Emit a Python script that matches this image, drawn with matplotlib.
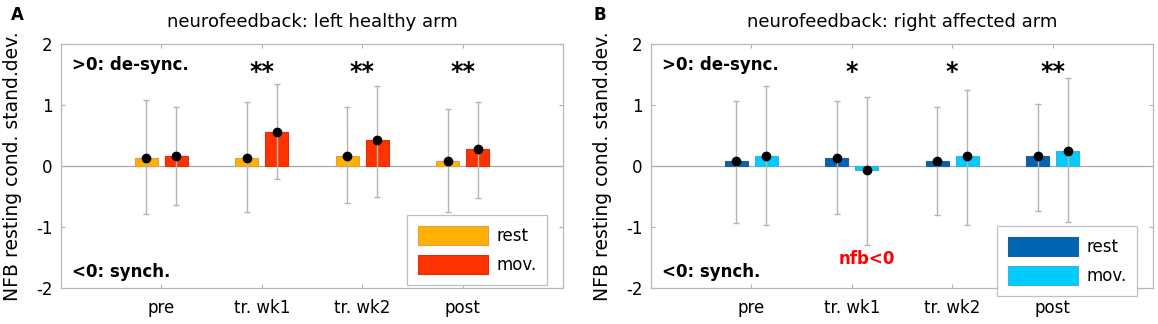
import numpy as np
import matplotlib
matplotlib.use('Agg')
import matplotlib.pyplot as plt

# session labels
categories = ['pre', 'tr. wk1', 'tr. wk2', 'post']

# panel A: left healthy arm
a_rest = [0.13, 0.13, 0.16, 0.08]
a_rest_hi = [1.08, 1.05, 0.96, 0.93]
a_rest_lo = [-0.78, -0.75, -0.61, -0.75]
a_mov = [0.16, 0.56, 0.42, 0.28]
a_mov_hi = [0.96, 1.34, 1.31, 1.05]
a_mov_lo = [-0.64, -0.21, -0.50, -0.52]
a_stars = ['', '**', '**', '**']

# panel B: right affected arm
b_rest = [0.08, 0.14, 0.08, 0.16]
b_rest_hi = [1.07, 1.07, 0.96, 1.02]
b_rest_lo = [-0.93, -0.79, -0.81, -0.73]
b_mov = [0.16, -0.07, 0.16, 0.25]
b_mov_hi = [1.31, 1.14, 1.25, 1.45]
b_mov_lo = [-0.96, -1.30, -0.96, -0.92]
b_stars = ['', '*', '*', '**']

plt.rcParams['font.family'] = ['DejaVu Sans']

fig = plt.figure(figsize=(11.58, 3.24), dpi=100)
axA = fig.add_axes([0.0527, 0.111, 0.4335, 0.753])
axB = fig.add_axes([0.5622, 0.111, 0.4335, 0.753])

grey = '#b4b4b4'
x = np.arange(1, len(categories) + 1)
off = 0.15
w = 0.23


def panel(ax, rest, rest_lo, rest_hi, mov, mov_lo, mov_hi, stars, cols, edges, title, legend_y):
    ax.axhline(0, color='#a8a8a8', lw=0.9, zorder=1)
    for dx, vals, lo, hi, c, ec, lab in [(-off, rest, rest_lo, rest_hi, cols[0], edges[0], 'rest'),
                                          (off, mov, mov_lo, mov_hi, cols[1], edges[1], 'mov.')]:
        vals = np.array(vals)
        ax.bar(x + dx, vals, width=w, color=c, edgecolor=ec, lw=0.8, zorder=2, label=lab)
        ax.errorbar(x + dx, vals, yerr=[vals - np.array(lo), np.array(hi) - vals],
                    fmt='none', ecolor=grey, elinewidth=1, capsize=2.5, capthick=1, zorder=3)
        ax.plot(x + dx, vals, 'o', color='k', ms=6, zorder=4)
    for xi, s in zip(x, stars):
        if s:
            ax.text(xi, 1.55, s, ha='center', va='center', fontsize=17, fontweight='bold')
    ax.text(0.11, 1.66, '>0: de-sync.', ha='left', va='center', fontsize=12, fontweight='bold')
    ax.text(0.11, -1.73, '<0: synch.', ha='left', va='center', fontsize=12, fontweight='bold')
    ax.set_xlim(0, 5)
    ax.set_ylim(-2, 2)
    ax.set_xticks(x)
    ax.set_xticklabels(categories)
    ax.set_yticks([-2, -1, 0, 1, 2])
    ax.set_yticklabels(['-2', '-1', '0', '1', '2'])
    ax.tick_params(direction='in', length=3, top=True, right=True, color='#b0b0b0',
                   labelsize=12, pad=6)
    ax.tick_params(axis='x', pad=8)
    for sp in ax.spines.values():
        sp.set_color('#b8b8b8')
        sp.set_linewidth(0.9)
    ax.set_title(title, fontsize=13, pad=12)
    ax.set_ylabel('NFB resting cond. stand.dev.', fontsize=13.5)
    ax.yaxis.set_label_coords(-0.078, 0.5)
    leg = ax.legend(loc='lower left', bbox_to_anchor=(0.689, legend_y), borderaxespad=0,
                    fontsize=12, handlelength=4.2, handleheight=1.4, labelspacing=0.6,
                    handletextpad=0.5, borderpad=0.65, fancybox=False, framealpha=1,
                    edgecolor='#c0c0c0')
    leg.get_frame().set_linewidth(0.9)


panel(axA, a_rest, a_rest_lo, a_rest_hi, a_mov, a_mov_lo, a_mov_hi, a_stars,
      ['#ffb000', '#ff3300'], ['#e0a040', '#d83010'],
      'neurofeedback: left healthy arm', 0.012)
panel(axB, b_rest, b_rest_lo, b_rest_hi, b_mov, b_mov_lo, b_mov_hi, b_stars,
      ['#0066b3', '#00ccff'], ['#2a5a90', '#40b0d8'],
      'neurofeedback: right affected arm', -0.033)

axB.text(2.15, -1.52, 'nfb<0', ha='center', va='center', color='#ff0000',
         fontsize=12, fontweight='bold')

fig.text(17 / 1158, 1 - 15 / 324, 'A', ha='center', va='center', fontsize=12, fontweight='bold')
fig.text(600 / 1158, 1 - 15 / 324, 'B', ha='center', va='center', fontsize=12, fontweight='bold')

fig.savefig('out.png', dpi=100)
